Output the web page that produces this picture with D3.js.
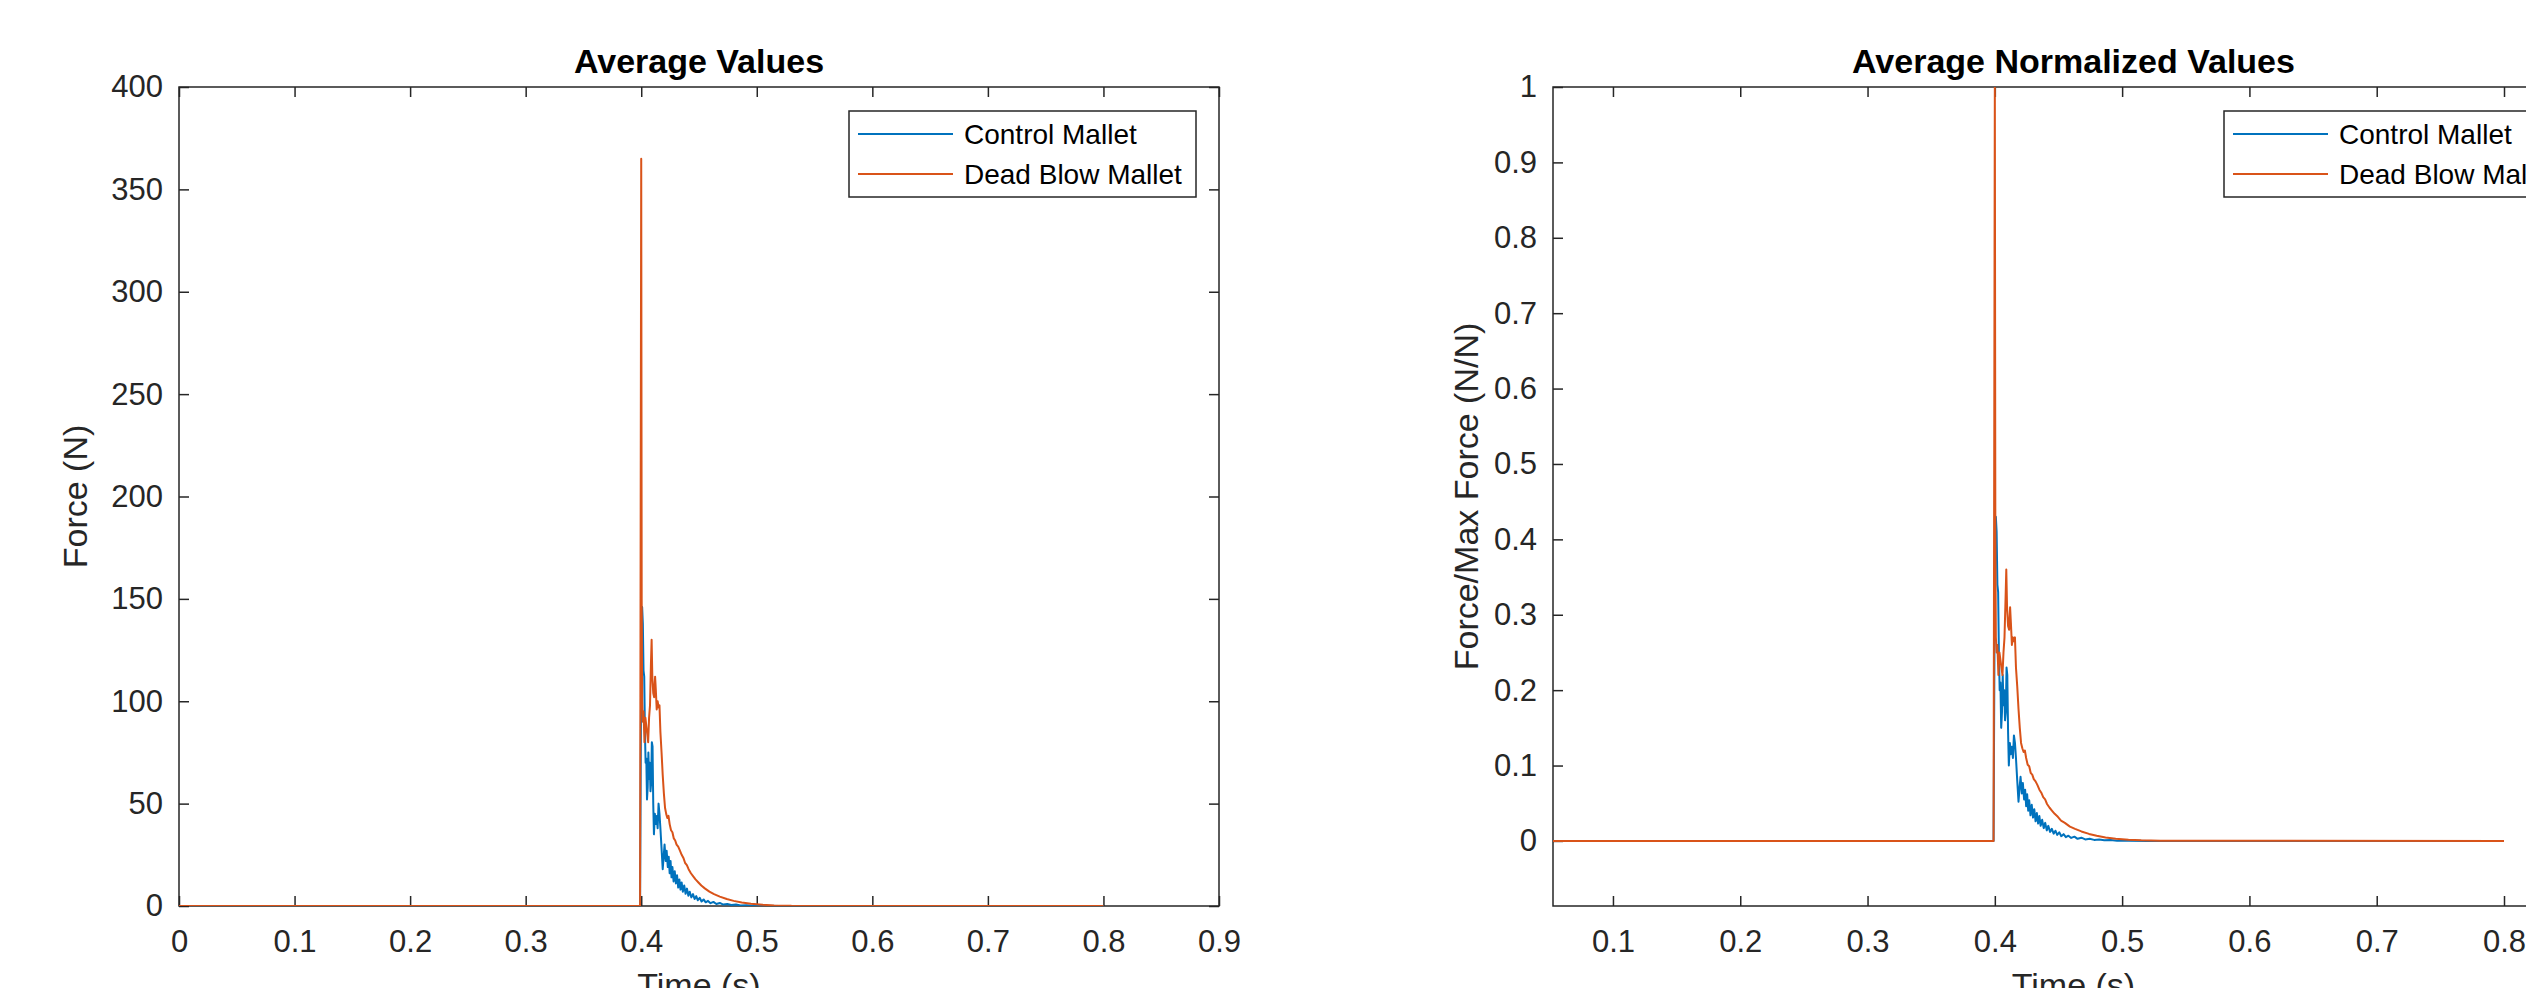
<!DOCTYPE html>
<html>
<head>
<meta charset="utf-8">
<script src="https://cdn.jsdelivr.net/npm/d3@7"></script>
<style>
  body { margin: 0; background: #fff; }
  text { font-family: "Liberation Sans", Arial, Helvetica, sans-serif; }
</style>
</head>
<body>
<div id="chart"></div>
<script>
// series names and colours (MATLAB defaults)
var seriesNames = ["Control Mallet", "Dead Blow Mallet"];
var seriesColors = ["#0072BD", "#D95319"];

// control mallet: time (s), average force (N), normalized force
var ctrlTime = [0, 0.3990, 0.4000, 0.4008, 0.4014, 0.4020, 0.4026, 0.4032, 0.4038, 0.4044,
  0.4050, 0.4056, 0.4062, 0.4068, 0.4074, 0.4080, 0.4086, 0.4092, 0.4098, 0.4104,
  0.4110, 0.4118, 0.4126, 0.4134, 0.4142, 0.4150, 0.4158, 0.4166, 0.4176, 0.4186,
  0.4194, 0.4202, 0.4212, 0.4220, 0.4230, 0.4238, 0.4246, 0.4254, 0.4262, 0.4270,
  0.4280, 0.4290, 0.4300, 0.4310, 0.4320, 0.4330, 0.4340, 0.4350, 0.4360, 0.4372,
  0.4384, 0.4396, 0.4408, 0.4420, 0.4434, 0.4448, 0.4462, 0.4476, 0.4490, 0.4506,
  0.4522, 0.4540, 0.4558, 0.4578, 0.4600, 0.4625, 0.4650, 0.4680, 0.4710, 0.4745,
  0.4780, 0.4820, 0.4860, 0.4910, 0.4960, 0.5050, 0.5200, 0.8000];
var ctrlForce = [0, 0, 120, 146, 138, 115, 112, 85, 70, 72,
  52, 58, 75, 62, 70, 56, 60, 80, 78, 50,
  35, 45, 40, 44, 38, 50, 45, 38, 28, 18,
  24, 30, 22, 27, 19, 24, 16, 22, 14, 19,
  12, 17, 11, 15, 9, 13, 8, 11.5, 7, 10,
  6, 8.5, 5, 7, 4.2, 5.8, 3.4, 4.8, 2.8, 4,
  2.2, 3.2, 1.8, 2.5, 1.4, 2, 1, 1.5, 0.7, 1,
  0.5, 0.7, 0.3, 0.4, 0.15, 0.1, 0, 0];
var ctrlNorm = [0, 0, 0.36, 0.43, 0.41, 0.34, 0.33, 0.25, 0.2, 0.21,
  0.15, 0.17, 0.22, 0.18, 0.2, 0.16, 0.17, 0.23, 0.22, 0.145,
  0.1, 0.13, 0.115, 0.125, 0.11, 0.14, 0.13, 0.11, 0.08, 0.052,
  0.07, 0.085, 0.063, 0.077, 0.055, 0.068, 0.046, 0.062, 0.04, 0.054,
  0.034, 0.048, 0.031, 0.042, 0.026, 0.037, 0.023, 0.033, 0.02, 0.028,
  0.017, 0.024, 0.014, 0.02, 0.012, 0.016, 0.0097, 0.0136, 0.008, 0.0114,
  0.0063, 0.009, 0.005, 0.007, 0.004, 0.0057, 0.0028, 0.0043, 0.002, 0.0028,
  0.0014, 0.002, 0.0009, 0.0011, 0.0004, 0.0003, 0, 0];

// dead blow mallet: time (s), average force (N), normalized force
var deadTime = [0, 0.3990, 0.4000, 0.4004, 0.4008, 0.4014, 0.4020, 0.4028, 0.4036, 0.4052,
  0.4060, 0.4068, 0.4076, 0.4084, 0.4090, 0.4096, 0.4104, 0.4112, 0.4120, 0.4126,
  0.4134, 0.4142, 0.4150, 0.4158, 0.4166, 0.4176, 0.4186, 0.4196, 0.4206, 0.4216,
  0.4226, 0.4236, 0.4246, 0.4258, 0.4270, 0.4282, 0.4294, 0.4306, 0.4320, 0.4335,
  0.4350, 0.4365, 0.4380, 0.4395, 0.4410, 0.4430, 0.4450, 0.4470, 0.4495, 0.4520,
  0.4550, 0.4590, 0.4630, 0.4680, 0.4740, 0.4800, 0.4870, 0.4950, 0.5050, 0.5150,
  0.5300, 0.8000];
var deadForce = [0, 0, 365, 150, 100, 90, 95, 80, 92, 84,
  80, 92, 98, 118, 130, 112, 104, 102, 112, 106,
  96, 100, 97, 98, 85, 75, 64, 55, 48, 45,
  43, 44, 40, 37, 36, 33, 32, 30, 29, 27,
  25, 23.5, 21, 20, 18, 16, 14.5, 13, 11.5, 10,
  8.6, 7, 5.8, 4.6, 3.4, 2.5, 1.7, 1.1, 0.6, 0.3,
  0.1, 0];
var deadNorm = [0, 0, 1, 0.41, 0.27, 0.25, 0.26, 0.22, 0.25, 0.23,
  0.22, 0.25, 0.27, 0.32, 0.36, 0.31, 0.285, 0.28, 0.31, 0.29,
  0.26, 0.27, 0.265, 0.27, 0.23, 0.205, 0.175, 0.15, 0.13, 0.123,
  0.118, 0.12, 0.11, 0.101, 0.099, 0.09, 0.088, 0.082, 0.079, 0.074,
  0.068, 0.064, 0.058, 0.055, 0.049, 0.044, 0.04, 0.036, 0.032, 0.027,
  0.024, 0.019, 0.016, 0.0126, 0.0093, 0.0068, 0.0047, 0.003, 0.0016, 0.0008,
  0.0003, 0];

// tick values
var leftXTicks = [0, 0.1, 0.2, 0.3, 0.4, 0.5, 0.6, 0.7, 0.8, 0.9];
var leftYTicks = [0, 50, 100, 150, 200, 250, 300, 350, 400];
var rightXTicks = [0.1, 0.2, 0.3, 0.4, 0.5, 0.6, 0.7, 0.8, 0.9];
var rightYTicks = [0, 0.1, 0.2, 0.3, 0.4, 0.5, 0.6, 0.7, 0.8, 0.9, 1];

var axisColor = "#262626";

var svg = d3.select("#chart").append("svg")
    .attr("width", 2526)
    .attr("height", 988);

function zip(t, v) {
  return t.map(function(d, i) { return {t: d, v: v[i]}; });
}

function drawPanel(p) {
  var x = d3.scaleLinear().domain(p.xDomain).range([0, p.width]);
  var y = d3.scaleLinear().domain(p.yDomain).range([p.height, 0]);
  var fmt = d3.format("~g");

  var g = svg.append("g")
      .attr("transform", "translate(" + p.left + "," + p.top + ")");

  // bottom axis with labels, ticks inside
  var bx = g.append("g")
      .attr("transform", "translate(0," + p.height + ")")
      .call(d3.axisBottom(x).tickValues(p.xTicks).tickSize(-10).tickPadding(24).tickFormat(fmt));
  // top axis, ticks only
  var tx = g.append("g")
      .call(d3.axisTop(x).tickValues(p.xTicks).tickSize(-10).tickFormat(""));
  // left axis with labels
  var ly = g.append("g")
      .call(d3.axisLeft(y).tickValues(p.yTicks).tickSize(-10).tickPadding(16).tickFormat(fmt));
  // right axis, ticks only
  var ry = g.append("g")
      .attr("transform", "translate(" + p.width + ",0)")
      .call(d3.axisRight(y).tickValues(p.yTicks).tickSize(-10).tickFormat(""));

  [bx, tx, ly, ry].forEach(function(a) {
    a.select(".domain").remove();
    a.selectAll(".tick line").attr("stroke", axisColor).attr("stroke-width", 1.5);
    a.selectAll(".tick text")
      .attr("fill", axisColor)
      .style("font-size", "31px")
      .style("font-family", '"Liberation Sans", Arial, sans-serif');
  });

  // axes box
  g.append("rect")
      .attr("width", p.width)
      .attr("height", p.height)
      .attr("fill", "none")
      .attr("stroke", axisColor)
      .attr("stroke-width", 1.5);

  // clip for the data lines
  g.append("clipPath")
      .attr("id", p.id + "clip")
    .append("rect")
      .attr("width", p.width)
      .attr("height", p.height);

  var line = d3.line()
      .x(function(d) { return x(d.t); })
      .y(function(d) { return y(d.v); });

  p.series.forEach(function(s, i) {
    g.append("path")
        .datum(s)
        .attr("clip-path", "url(#" + p.id + "clip)")
        .attr("fill", "none")
        .attr("stroke", seriesColors[i])
        .attr("stroke-width", 2)
        .attr("stroke-linejoin", "round")
        .attr("d", line);
  });

  // title
  g.append("text")
      .attr("x", p.width / 2)
      .attr("y", -14)
      .attr("text-anchor", "middle")
      .style("font-size", "34px")
      .style("font-weight", "bold")
      .attr("fill", "#000")
      .text(p.title);

  // x label
  g.append("text")
      .attr("x", p.width / 2)
      .attr("y", p.height + 91)
      .attr("text-anchor", "middle")
      .style("font-size", "34px")
      .attr("fill", axisColor)
      .text("Time (s)");

  // y label
  g.append("text")
      .attr("transform", "rotate(-90)")
      .attr("x", -p.height / 2)
      .attr("y", -p.ylabelOffset)
      .attr("text-anchor", "middle")
      .style("font-size", "34px")
      .attr("fill", axisColor)
      .text(p.ylabel);

  // legend
  var lg = g.append("g")
      .attr("transform", "translate(" + (p.width - 370) + ",24)");
  lg.append("rect")
      .attr("width", 347)
      .attr("height", 86)
      .attr("fill", "#fff")
      .attr("stroke", axisColor)
      .attr("stroke-width", 1.5);
  seriesNames.forEach(function(name, i) {
    var cy = 23 + i * 40;
    lg.append("line")
        .attr("x1", 9).attr("x2", 104)
        .attr("y1", cy).attr("y2", cy)
        .attr("stroke", seriesColors[i])
        .attr("stroke-width", 2);
    lg.append("text")
        .attr("x", 115)
        .attr("y", cy + 10)
        .style("font-size", "28px")
        .attr("fill", "#000")
        .text(name);
  });
}

drawPanel({
  id: "left",
  left: 179, top: 87, width: 1040, height: 819,
  xDomain: [0, 0.9], yDomain: [0, 400],
  xTicks: leftXTicks, yTicks: leftYTicks,
  title: "Average Values",
  ylabel: "Force (N)",
  ylabelOffset: 92,
  series: [zip(ctrlTime, ctrlForce), zip(deadTime, deadForce)]
});

drawPanel({
  id: "right",
  left: 1553, top: 87, width: 1041, height: 819,
  xDomain: [0.0529, 0.8707], yDomain: [-0.0863, 1],
  xTicks: rightXTicks, yTicks: rightYTicks,
  title: "Average Normalized Values",
  ylabel: "Force/Max Force (N/N)",
  ylabelOffset: 75,
  series: [zip(ctrlTime, ctrlNorm), zip(deadTime, deadNorm)]
});
</script>
</body>
</html>
